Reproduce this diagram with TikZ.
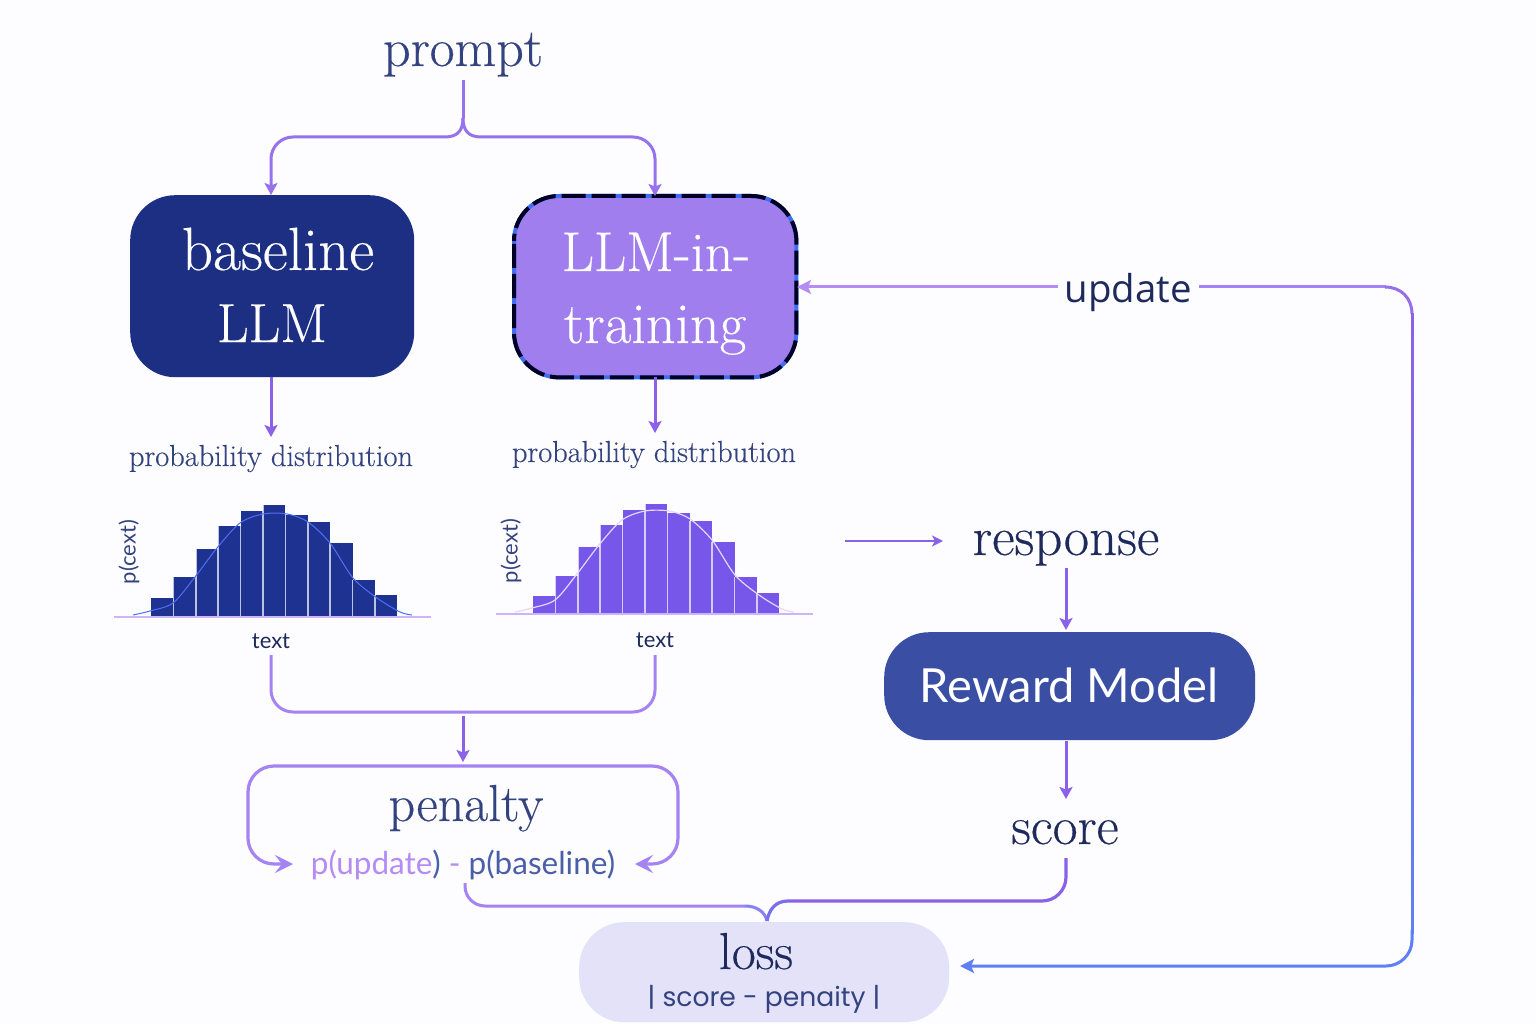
\documentclass[tikz,border=0pt]{standalone}
\usepackage{fontspec}
\usetikzlibrary{arrows.meta,calc}
\newfontfamily\srf{Latin Modern Roman}[FakeBold=0.35]
\newfontfamily\nunitoish{Lato}
\newfontfamily\wideish{Open Sans}
\newfontfamily\montish{Poppins}
\definecolor{bgc}{HTML}{FDFCFF}
\definecolor{navy}{HTML}{1C2F82}
\definecolor{barnavy}{HTML}{1E3391}
\definecolor{barpurple}{HTML}{7757EA}
\definecolor{lilac}{HTML}{A07EEE}
\definecolor{rewardc}{HTML}{3A4FA4}
\definecolor{lossc}{HTML}{E3E2F8}
\definecolor{inkA}{HTML}{33437F}
\definecolor{inkB}{HTML}{1F2A5C}
\definecolor{lineA}{HTML}{A583F2}
\definecolor{lineB}{HTML}{8A62E8}
\definecolor{lineC}{HTML}{5F7FF5}
\definecolor{updc}{HTML}{B48CF5}
\definecolor{basec}{HTML}{4A5FA8}
\definecolor{dashblue}{HTML}{3F6FF0}
\newcommand{\fs}[1]{\fontsize{#1}{#1}\selectfont}
\tikzset{
  x=1pt,y=-1pt,
  tipA/.style={-{Stealth[length=12pt,width=13pt,inset=2.5pt]}},
  conn/.style={line width=3pt,color=lineA,rounded corners=22pt},
  arr/.style={line width=3pt,color=lineB,tipA},
  openarr/.style={line width=3.2pt,color=lineA,rounded corners=26pt,-{Stealth[length=18pt,width=18pt,inset=7pt]}},
  box/.style={rounded corners=45pt,inner sep=0pt,anchor=north west},
  lbl/.style={inner sep=0pt,anchor=base},
}
\begin{document}
\begin{tikzpicture}
\useasboundingbox (0,0) rectangle (1536,1024);
\fill[bgc] (0,0) rectangle (1536,1024);

% boxes
\node[box,fill=navy,minimum width=284pt,minimum height=182pt] (base) at (130,195) {};
\node[box,fill=lilac,minimum width=282pt,minimum height=181pt] (train) at (514,196) {};
\draw[dashblue,line width=4pt,rounded corners=45pt] (train.north west) rectangle (train.south east);
\draw[black!85!blue,line width=4pt,rounded corners=45pt,dash pattern=on 24pt off 6pt,dash phase=-3pt] (train.north west) rectangle (train.south east);
\node[box,fill=rewardc,minimum width=371pt,minimum height=108pt] (reward) at (884,632) {};
\node[box,fill=lossc,minimum width=370pt,minimum height=100pt] (loss) at (579,922) {};

% texts
\node[lbl,text=inkA,font=\fs{54}\srf] (prompt) at (463,66) {prompt};
\node[lbl,text=white,font=\fs{61}\srf] (t1) at (278,270) {baseline};
\node[lbl,text=white,font=\fs{55}\srf] (t2) at (272,342) {LLM};
\node[lbl,text=white,font=\fs{56}\srf] (t3) at (656,271) {LLM-in-};
\node[lbl,text=white,font=\fs{58}\srf] (t4) at (655,343) {training};
\node[lbl,text=inkA,font=\fs{30.4}\srf] (pd1) at (271,466) {probability distribution};
\node[lbl,text=inkA,font=\fs{30.4}\srf] (pd2) at (654,462) {probability distribution};
\node[lbl,text=inkB,font=\fs{55}\srf] (resp) at (1066,555) {response};
\node[lbl,text=white,font=\fs{47}\nunitoish] (rm) at (1069,702) {Reward Model};
\node[lbl,text=inkB,font=\fs{54}\srf] (score) at (1065,844) {score};
\node[lbl,text=inkB,font=\fs{38.4}\wideish] (upd) at (1128,302) {update};
\node[lbl,text=inkA,font=\fs{52}\srf] (pen) at (466,821) {penalty};
\node[lbl,font=\fs{31.5}\nunitoish] (form) at (463,874) {\textcolor{updc}{p(update}\textcolor{basec}{)}\textcolor{updc}{\ -\ }\textcolor{basec}{p(baseline)}};
\node[lbl,text=inkB,font=\fs{52}\srf] (lo) at (756,969) {loss};
\node[lbl,text=inkA,font=\fs{26.6}\montish] (lf) at (764,1006) {| score - penaity |};

% histograms
\foreach \xo/\yb/\col/\tops in {
  151/617/barnavy/{598,577,549,526,511,505,515,522,543,580,595},
  533/614/barpurple/{596,576,547,525,510,504,513,521,542,577,593}}{
  \foreach \t [count=\i from 0] in \tops {
    \fill[\col] ({\xo+\i*22.4},\t) rectangle ({\xo+(\i+1)*22.4},\yb);
  }
  \foreach \t [count=\i from 0] in \tops {
    \ifnum\i>0 \draw[white,opacity=.7,line width=1.6pt] ({\xo+\i*22.4},\t) -- ({\xo+\i*22.4},\yb); \fi
  }
  \draw[lineA!60,line width=1.4pt] ({\xo-37},\yb) -- ({\xo+280},\yb);
}
\draw[lineC!85!blue,line width=1pt] plot[smooth] coordinates {(133,615) (150,611) (173,603) (195,577) (217,548) (240,523) (263,514) (287,514) (308,522) (330,543) (353,578) (377,598) (400,612) (412,615)};
\draw[white!70!lilac,line width=1.2pt] plot[smooth] coordinates {(515,612) (532,608) (555,600) (577,574) (599,545) (622,520) (645,511) (669,511) (690,519) (712,540) (735,575) (759,595) (782,609) (794,612)};

\node[lbl,anchor=center,rotate=90,text=inkA,font=\fs{22}\nunitoish] (yl) at (129,552) {p(cext)};
\node[lbl,anchor=center,rotate=90,text=inkA,font=\fs{22}\nunitoish] (yr) at (511,551) {p(cext)};
\node[lbl,text=inkB,font=\fs{22}\nunitoish] (xl) at (271,648) {text};
\node[lbl,text=inkB,font=\fs{22}\nunitoish] (xr) at (655,647) {text};

% waypoints
\coordinate (pr) at (463,80);
\coordinate (bt) at (271,195);
\coordinate (tt) at (655,196);
\coordinate (bb) at (271,377);
\coordinate (tb) at (655,377);
\coordinate (respin) at (845,541);
\coordinate (respout) at (943,541);
\coordinate (updL) at (797,287);
\coordinate (lossR) at (960,966);

% prompt fork
\draw[line width=3pt,color=lineB!50!lineA] (pr) -- (463,118);
\draw[line width=3pt,color=lineB!50!lineA] (463,118) .. controls (463,130) and (458,137) .. (445,137);
\draw[line width=3pt,color=lineB!50!lineA] (463,118) .. controls (463,130) and (468,137) .. (481,137);
\draw[line width=3pt,color=lineB!50!lineA,tipA,rounded corners=22pt] (445,137) -- (271,137) -- (bt);
\draw[line width=3pt,color=lineB!50!lineA,tipA,rounded corners=22pt] (481,137) -- (655,137) -- (tt);
\draw[arr] (bb) -- (271,437);
\draw[arr] (tb) -- (655,433);
\draw[line width=1.8pt,color=lineB,-{Stealth[length=11pt,width=11pt,inset=3pt]}] (respin) -- (respout);
\draw[arr] (1066,568) -- (1066,630);
\draw[arr] (1066,741) -- (1066,799);

% merge into penalty
\draw[conn] (271,655) -- (271,712) -- (655,712) -- (655,655);
\draw[arr] (463,716) -- (463,762);
\draw[openarr] (463,766) -- (248,766) -- (248,864) -- (293,864);
\draw[openarr] (463,766) -- (678,766) -- (678,864) -- (635,864);

% update
\draw[line width=3pt,color=updc,-{Stealth[length=14pt,width=14pt,inset=3pt]}] (1058,287) -- (updL);
\draw[line width=3pt,color=lineA] (1199,287) -- (1386,287);
\draw[line width=3pt,color=lineB!60!lineA] (1385,287) .. controls (1401,287) and (1412,298) .. (1412,314);
\foreach \k in {0,...,30}{
  \pgfmathsetmacro\mixp{100-\k*100/30}
  \pgfmathsetmacro\ya{313+\k*20}
  \pgfmathsetmacro\yb{334+\k*20}
  \draw[line width=3pt,color=lineB!\mixp!lineC] (1412,\ya) -- (1412,\yb);
}
\draw[line width=3pt,color=lineC,rounded corners=26pt,-{Stealth[length=14pt,width=14pt,inset=3pt]}] (1412,930) -- (1412,966) -- (lossR);

% into loss
\draw[line width=3pt,color=lineA,rounded corners=20pt] (465,883) -- (465,906) -- (745,906);
\draw[line width=3pt,color=lineA!60!lineC] (745,906) .. controls (757,906) and (765,912) .. (767,921);
\draw[line width=3.2pt,color=lineB,rounded corners=24pt] (1066,858) -- (1066,901) -- (788,901);
\draw[line width=3.2pt,color=lineB!60!lineC] (788,901) .. controls (775,901) and (769,910) .. (767,921);
\end{tikzpicture}
\end{document}
